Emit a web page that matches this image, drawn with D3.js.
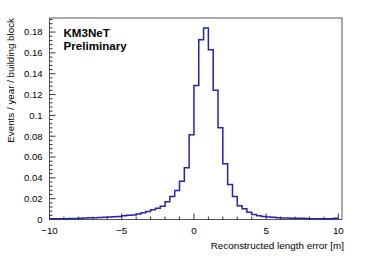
<!DOCTYPE html>
<html>
<head>
<meta charset="utf-8">
<script src="https://cdn.jsdelivr.net/npm/d3@7"></script>
<style>
  body { margin: 0; background: #fff; }
  text { font-family: "Liberation Sans", Arial, sans-serif; }
</style>
</head>
<body>
<script>
var width = 382,
    height = 259;

// histogram: 60 bins of 1/3 m between -10 and 10
var binLow = -10,
    binWidth = 1 / 3;

var counts = [
    0.0007, 0.0007, 0.0008, 0.0008, 0.0009, 0.0010, 0.0012, 0.0015, 0.0016, 0.0017,
    0.0020, 0.0022, 0.0024, 0.0027, 0.0030, 0.0036, 0.0040, 0.0043, 0.0052, 0.0064,
    0.0077, 0.0093, 0.0109, 0.0128, 0.0170, 0.0221, 0.0279, 0.0368, 0.0497, 0.0814,
    0.1288, 0.1727, 0.1838, 0.1630, 0.1240, 0.0880, 0.0535, 0.0336, 0.0221, 0.0132,
    0.0103, 0.0070, 0.0048, 0.0036, 0.0030, 0.0025, 0.0021, 0.0018, 0.0015, 0.0014,
    0.0013, 0.0012, 0.0011, 0.0010, 0.0008, 0.0007, 0.0007, 0.0008, 0.0007, 0.0012
];

var xTicks = [-10, -5, 0, 5, 10];
var yTicks = [0, 0.02, 0.04, 0.06, 0.08, 0.1, 0.12, 0.14, 0.16, 0.18];

var xTitle = "Reconstructed length error [m]",
    yTitle = "Events / year / building block",
    label1 = "KM3NeT",
    label2 = "Preliminary";

var x = d3.scaleLinear().domain([-10, 10.25]).range([49.5, 342]);
var y = d3.scaleLinear().domain([0, 0.1935]).range([219.5, 18]);

var svg = d3.select("body").append("svg")
    .attr("width", width)
    .attr("height", height);

// frame
svg.append("rect")
    .attr("x", x.range()[0])
    .attr("y", y.range()[1])
    .attr("width", x.range()[1] - x.range()[0])
    .attr("height", y.range()[0] - y.range()[1])
    .attr("fill", "none")
    .attr("stroke", "#555")
    .attr("stroke-width", 1);

// x axis (ticks pointing inward)
var gx = svg.append("g").attr("transform", "translate(0," + y.range()[0] + ")");
var xMinor = d3.range(-10, 10.001, 1);
gx.selectAll(".xminor").data(xMinor).enter().append("line")
    .attr("x1", function(d) { return x(d); })
    .attr("x2", function(d) { return x(d); })
    .attr("y1", 0)
    .attr("y2", function(d) { return d % 5 === 0 ? -6 : -3; })
    .attr("stroke", "#333");
gx.selectAll("text").data(xTicks).enter().append("text")
    .attr("x", function(d) { return x(d); })
    .attr("y", 14)
    .attr("text-anchor", "middle")
    .style("font-size", "9.8px")
    .text(function(d) { return d < 0 ? "\u2212" + Math.abs(d) : d; });

// y axis
var gy = svg.append("g").attr("transform", "translate(" + x.range()[0] + ",0)");
var yMinor = d3.range(0, 0.1935, 0.004);
gy.selectAll(".yminor").data(yMinor).enter().append("line")
    .attr("y1", function(d) { return y(d); })
    .attr("y2", function(d) { return y(d); })
    .attr("x1", 0)
    .attr("x2", function(d, i) { return i % 5 === 0 ? 6 : 3; })
    .attr("stroke", "#333");
gy.selectAll("text").data(yTicks).enter().append("text")
    .attr("x", -7)
    .attr("y", function(d) { return y(d); })
    .attr("dy", "0.35em")
    .attr("text-anchor", "end")
    .style("font-size", "9.5px")
    .text(function(d) { return d; });

// histogram outline
var pts = [];
counts.forEach(function(v, i) {
    var x0 = binLow + i * binWidth;
    pts.push([x0, v]);
    pts.push([x0 + binWidth, v]);
});
var line = d3.line()
    .x(function(d) { return x(d[0]); })
    .y(function(d) { return y(d[1]); });
svg.append("path")
    .attr("d", line(pts))
    .attr("fill", "none")
    .attr("stroke", "#2222b4")
    .attr("stroke-width", 1.5);

// titles
svg.append("text")
    .attr("x", 344)
    .attr("y", 249)
    .attr("text-anchor", "end")
    .style("font-size", "9.9px")
    .text(xTitle);

svg.append("text")
    .attr("transform", "translate(13.5,18)rotate(-90)")
    .attr("text-anchor", "end")
    .style("font-size", "9.8px")
    .text(yTitle);

svg.append("text")
    .attr("x", 63.5)
    .attr("y", 37)
    .style("font-size", "11.6px")
    .style("font-weight", "bold")
    .text(label1);
svg.append("text")
    .attr("x", 63.5)
    .attr("y", 49.5)
    .style("font-size", "11.6px")
    .style("font-weight", "bold")
    .text(label2);
</script>
</body>
</html>
